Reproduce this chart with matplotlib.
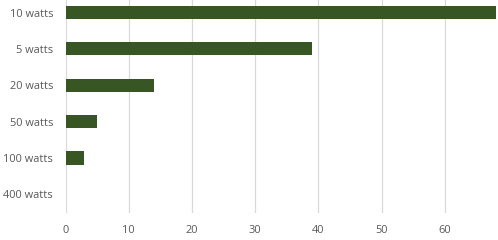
import matplotlib
matplotlib.use("Agg")
import matplotlib.pyplot as plt

categories = ["10 watts", "5 watts", "20 watts", "50 watts", "100 watts", "400 watts"]
values = [68, 39, 14, 5, 3, 0]
xticks = [0, 10, 20, 30, 40, 50, 60]

plt.rcParams['font.family'] = ['Open Sans', 'DejaVu Sans']
fig = plt.figure(figsize=(4.98, 2.40), dpi=100)
W, H = 498, 240
left, right = 65.5, 495.5
top, bottom = -5.6, 212.5
ax = fig.add_axes([left / W, 1 - bottom / H, (right - left) / W, (bottom - top) / H])

y = list(range(len(categories)))
ax.barh(y, values, height=0.36, color="#375623", zorder=3)
ax.set_ylim(len(categories) - 0.5, -0.5)
ax.set_xlim(0, 68)
ax.set_yticks(y)
ax.set_yticklabels(categories)
ax.set_xticks(xticks)
ax.set_xticklabels([str(t) for t in xticks])
ax.grid(axis="x", color="#d9d9d9", linewidth=0.9, zorder=0)
for s in ax.spines.values():
    s.set_visible(False)
ax.tick_params(axis="both", length=0, labelsize=7.9, colors="#595959")
ax.tick_params(axis="y", pad=9)
ax.tick_params(axis="x", pad=9)

fig.savefig("out.png", dpi=100)
